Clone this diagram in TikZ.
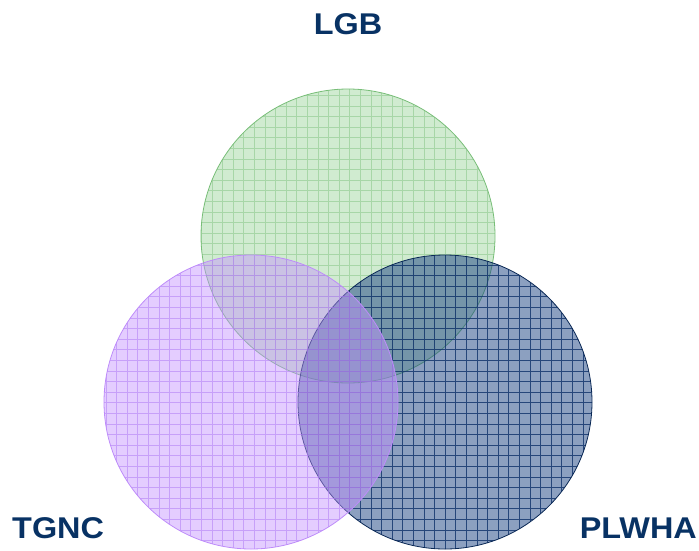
\documentclass[tikz,border=0pt]{standalone}
\usepackage{fontspec}
\setmainfont{Liberation Sans}
\definecolor{labelblue}{RGB}{8,50,100}
\definecolor{gfill}{RGB}{150,210,150}
\definecolor{ggrid}{RGB}{140,200,140}
\definecolor{gline}{RGB}{120,190,120}
\definecolor{pfill}{RGB}{195,145,255}
\definecolor{pgrid}{RGB}{180,130,245}
\definecolor{pline}{RGB}{190,140,250}
\definecolor{nfill}{RGB}{25,65,130}
\definecolor{ngrid}{RGB}{20,55,110}
\definecolor{nline}{RGB}{10,40,85}
\tikzset{
  lbl/.style={font=\bfseries\fontsize{30}{30}\selectfont, text=labelblue, inner sep=0pt, xscale=1.08},
}
\newcommand{\vcircle}[7]{% center x,y, fill, grid, opacity, grid opacity, outline
  \begin{scope}
    \clip (#1,#2) circle (147);
    \fill[#3, opacity=#5] (#1-150,#2-150) rectangle (#1+150,#2+150);
    \draw[#4, line width=0.9pt, opacity=#6, xstep=10.6pt, ystep=10.6pt] (#1-153,#2-153) grid (#1+153,#2+153);
  \end{scope}
  \draw[#7, line width=0.8pt] (#1,#2) circle (147);
}
\begin{document}
\begin{tikzpicture}[x=1pt,y=-1pt]
\useasboundingbox (0,0) rectangle (699,550);
\vcircle{348}{236}{gfill}{ggrid}{0.45}{0.6}{gline}
\vcircle{445}{402}{nfill}{ngrid}{0.5}{0.85}{nline}
\vcircle{251}{402}{pfill}{pgrid}{0.45}{0.6}{pline}
\node[lbl] (lgb) at (348,24) {LGB};
\node[lbl, anchor=west] (tgnc) at (12,528) {TGNC};
\node[lbl, anchor=east] (plwha) at (697,528) {PLWHA};
\end{tikzpicture}
\end{document}
